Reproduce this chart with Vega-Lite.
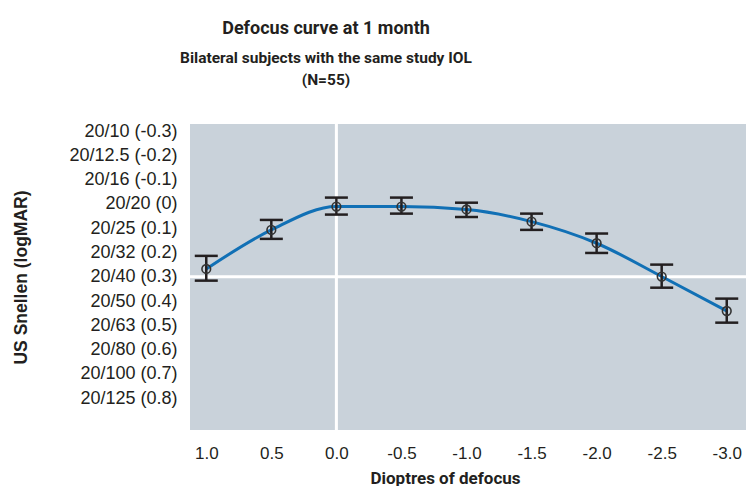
{
  "$schema": "https://vega.github.io/schema/vega-lite/v6.json",
  "width": 556,
  "height": 306,
  "autosize": {"type": "none"},
  "padding": {"left": 190, "top": 124, "right": 0, "bottom": 56},
  "background": "white",
  "config": {
    "view": {"fill": "#c9d2da", "stroke": null},
    "axis": {"labelOverlap": false}
  },
  "title": {
    "text": "Defocus curve at 1 month",
    "subtitle": ["Bilateral subjects with the same study IOL", "(N=55)"],
    "anchor": "middle",
    "frame": "group",
    "dx": -142,
    "offset": 34,
    "font": "Roboto",
    "fontSize": 18,
    "fontWeight": "bold",
    "color": "#231f20",
    "subtitleFont": "Roboto",
    "subtitleFontSize": 15.5,
    "subtitleFontWeight": "bold",
    "subtitleColor": "#231f20",
    "subtitlePadding": 13,
    "subtitleLineHeight": 22
  },
  "data": {
    "values": [
      {"d": 1.0, "mean": 0.268, "lo": 0.214, "hi": 0.316},
      {"d": 0.5, "mean": 0.107, "lo": 0.066, "hi": 0.144},
      {"d": 0.0, "mean": 0.011, "lo": -0.026, "hi": 0.044},
      {"d": -0.5, "mean": 0.011, "lo": -0.026, "hi": 0.040},
      {"d": -1.0, "mean": 0.023, "lo": -0.005, "hi": 0.054},
      {"d": -1.5, "mean": 0.073, "lo": 0.040, "hi": 0.107},
      {"d": -2.0, "mean": 0.162, "lo": 0.122, "hi": 0.202},
      {"d": -2.5, "mean": 0.299, "lo": 0.250, "hi": 0.345},
      {"d": -3.0, "mean": 0.441, "lo": 0.390, "hi": 0.489}
    ]
  },
  "layer": [
    {
      "data": {"values": [{"d": 0}]},
      "mark": {"type": "rule", "color": "white", "strokeWidth": 3},
      "encoding": {
        "x": {"field": "d", "type": "quantitative", "title": "Dioptres of defocus",
          "scale": {"domain": [-3.148, 1.125], "reverse": true, "nice": false, "zero": false},
          "axis": {"values": [1, 0.5, 0, -0.5, -1, -1.5, -2, -2.5, -3], "tickCount": 30,
            "labelExpr": "replace(format(datum.value, '.1f'), '\u2212', '-')",
            "ticks": false, "domain": false, "grid": false,
            "labelFont": "Liberation Sans", "labelFontSize": 17, "labelColor": "#231f20",
            "labelPadding": 15, "labelFlush": false, "labelOverlap": false,
            "titleFont": "Roboto",
            "titleFontSize": 17, "titleFontWeight": "bold", "titleColor": "#231f20",
            "titleX": 255, "titleY": 53, "titleBaseline": "alphabetic"}}
      }
    },
    {
      "data": {"values": [{"mean": 0.3}]},
      "mark": {"type": "rule", "color": "white", "strokeWidth": 3},
      "encoding": {
        "y": {"field": "mean", "type": "quantitative", "title": "US Snellen (logMAR)",
          "scale": {"domain": [-0.329, 0.931], "reverse": true, "nice": false, "zero": false},
          "axis": {"values": [-0.3, -0.2, -0.1, 0, 0.1, 0.2, 0.3, 0.4, 0.5, 0.6, 0.7, 0.8], "tickCount": 30,
            "labelExpr": "['20/10 (-0.3)','20/12.5 (-0.2)','20/16 (-0.1)','20/20 (0)','20/25 (0.1)','20/32 (0.2)','20/40 (0.3)','20/50 (0.4)','20/63 (0.5)','20/80 (0.6)','20/100 (0.7)','20/125 (0.8)'][round(datum.value * 10) + 3]",
            "ticks": false, "domain": false, "grid": false,
            "labelFont": "Liberation Sans", "labelFontSize": 18, "labelColor": "#231f20",
            "labelPadding": 13, "labelOverlap": false,
            "titleFont": "Liberation Sans", "titleFontSize": 17.5, "titleFontWeight": "bold",
            "titleColor": "#231f20", "titleX": -160, "titleY": 153}}
      }
    },
    {
      "mark": {"type": "line", "interpolate": "monotone", "color": "#1170b5", "strokeWidth": 3},
      "encoding": {
        "x": {"field": "d", "type": "quantitative", "title": "Dioptres of defocus"},
        "y": {"field": "mean", "type": "quantitative", "title": "US Snellen (logMAR)"}
      }
    },
    {
      "mark": {"type": "rule", "color": "#231f20", "strokeWidth": 2.5},
      "encoding": {
        "x": {"field": "d", "type": "quantitative", "title": "Dioptres of defocus"},
        "y": {"field": "lo", "type": "quantitative", "title": "US Snellen (logMAR)"},
        "y2": {"field": "hi"}
      }
    },
    {
      "mark": {"type": "tick", "orient": "horizontal", "color": "#231f20", "size": 23, "thickness": 2.5, "opacity": 1},
      "encoding": {
        "x": {"field": "d", "type": "quantitative", "title": "Dioptres of defocus"},
        "y": {"field": "lo", "type": "quantitative", "title": "US Snellen (logMAR)"}
      }
    },
    {
      "mark": {"type": "tick", "orient": "horizontal", "color": "#231f20", "size": 23, "thickness": 2.5, "opacity": 1},
      "encoding": {
        "x": {"field": "d", "type": "quantitative", "title": "Dioptres of defocus"},
        "y": {"field": "hi", "type": "quantitative", "title": "US Snellen (logMAR)"}
      }
    },
    {
      "mark": {"type": "point", "shape": "circle", "filled": false, "size": 75, "stroke": "#333333", "strokeWidth": 1.6, "opacity": 1},
      "encoding": {
        "x": {"field": "d", "type": "quantitative", "title": "Dioptres of defocus"},
        "y": {"field": "mean", "type": "quantitative", "title": "US Snellen (logMAR)"}
      }
    }
  ]
}
